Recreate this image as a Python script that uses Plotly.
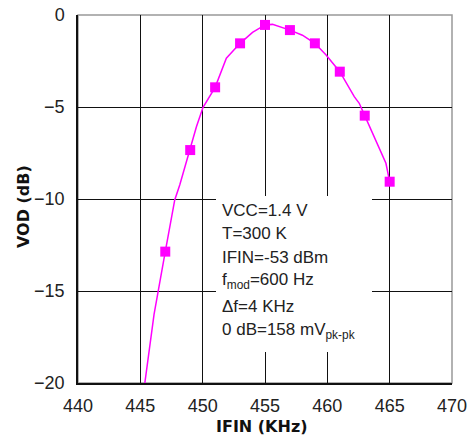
import plotly.graph_objects as go

# marker data (IFIN in KHz, VOD in dB)
ifin_pts = [447, 449, 451, 453, 455, 457, 459, 461, 463, 465]
vod_pts = [-12.86, -7.34, -3.93, -1.54, -0.54, -0.82, -1.54, -3.08, -5.47, -9.06]

# fitted curve as drawn in the figure
ifin_curve = [445.36, 445.9, 446.1, 447, 447.76, 448.16, 449, 449.5, 450.03, 451, 451.9, 453, 454.0,
              455, 455.6, 457, 458.0, 459, 459.9, 461, 462.16, 462.56, 463, 464.7, 465]
vod_curve = [-20.0, -17.2, -16.27, -12.86, -10.05, -9.24, -7.34, -6.07, -5.02, -3.93, -2.35, -1.54, -0.95,
             -0.54, -0.51, -0.82, -1.1, -1.54, -2.17, -3.08, -4.44, -4.8, -5.47, -8.06, -9.06]

x_ticks = [440, 445, 450, 455, 460, 465, 470]
y_ticks = [-20, -15, -10, -5, 0]

x_title = "IFIN (KHz)"
y_title = "VOD (dB)"
info_lines = ["VCC=1.4 V", "T=300 K", "IFIN=-53 dBm", "f<sub>mod</sub>=600 Hz",
              "\u0394f=4 KHz", "0 dB=158 mV<sub>pk-pk</sub>"]

MAG = "#ff00ff"
FONT = "Liberation Sans, Arial, sans-serif"
BFONT = "DejaVu Sans, sans-serif"

W, H = 472, 441
# plot area in page pixels: x 78..452, y 15..383
L, R, T, B = 78, W - 452, 15, H - 383
PW, PH = W - L - R, H - T - B


def px(xp):
    return (xp - 78) / PW


def py(yp):
    return (383 - yp) / PH


fig = go.Figure()
fig.add_trace(go.Scatter(x=ifin_curve, y=vod_curve, mode="lines",
                         line=dict(color=MAG, width=1.5), hoverinfo="skip", showlegend=False))
fig.add_trace(go.Scatter(x=ifin_pts, y=vod_pts, mode="markers",
                         marker=dict(color=MAG, symbol="square", size=10), showlegend=False))

# white info box
fig.add_shape(type="rect", xref="paper", yref="paper", x0=px(216), x1=px(372), y0=py(352), y1=py(196),
              fillcolor="white", line=dict(width=0), layer="above")
line_y = [210, 234, 257, 281, 306, 331]
for txt, yy in zip(info_lines, line_y):
    fig.add_annotation(xref="paper", yref="paper", x=px(220), y=py(yy), xanchor="left", yanchor="middle",
                       text=txt, showarrow=False, align="left",
                       font=dict(family=FONT, size=17, color="#222"))

# outer frame (top/right grey)
fig.add_shape(type="rect", xref="paper", yref="paper", x0=0, x1=1, y0=0, y1=1,
              line=dict(color="#999", width=1.5), layer="below")

# axis titles
fig.add_annotation(xref="paper", yref="paper", x=px(262), y=py(426), xanchor="center", yanchor="middle",
                   text="<b>" + x_title + "</b>", showarrow=False,
                   font=dict(family=BFONT, size=16, color="#111"))
fig.add_annotation(xref="paper", yref="paper", x=px(23), y=py(207), xanchor="center", yanchor="middle",
                   text="<b>" + y_title + "</b>", showarrow=False, textangle=-90,
                   font=dict(family=BFONT, size=16, color="#111"))

fig.update_xaxes(range=[440, 470], tickvals=x_ticks, showgrid=True, gridcolor="#111", gridwidth=1,
                 zeroline=False, showline=True, linecolor="#111", linewidth=1.5,
                 ticks="outside", ticklen=6, tickcolor="rgba(0,0,0,0)", automargin=False,
                 ticklabeloverflow="allow",
                 tickfont=dict(family=FONT, size=18, color="#222"))
fig.update_yaxes(range=[-20, 0], tickvals=y_ticks, showgrid=True, gridcolor="#111", gridwidth=1,
                 zeroline=False, showline=True, linecolor="#111", linewidth=1.5,
                 ticks="outside", ticklen=8, tickcolor="rgba(0,0,0,0)", automargin=False,
                 ticklabeloverflow="allow",
                 tickfont=dict(family=FONT, size=18, color="#222"))

fig.update_layout(width=W, height=H, margin=dict(l=L, r=R, t=T, b=B, autoexpand=False),
                  plot_bgcolor="white", paper_bgcolor="white")

# remove the browser's default 8px body margin so the figure fills the window exactly
fig.write_html("out.html", config={"displayModeBar": False},
               post_script="document.body.style.margin='0px';")
